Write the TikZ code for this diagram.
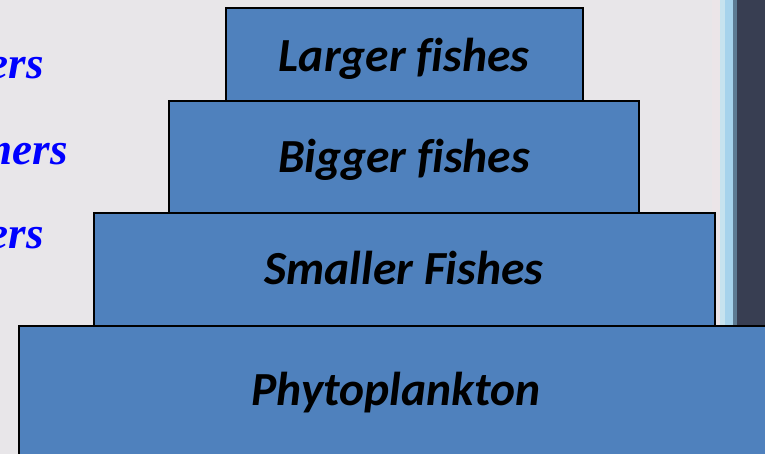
\documentclass[tikz,border=0pt]{standalone}
\usepackage{fontspec}
\setmainfont{Carlito}[Ligatures=NoCommon]
\newfontfamily\tnr{Liberation Serif}
\definecolor{boxblue}{HTML}{4F81BD}
\definecolor{bggray}{HTML}{E8E6E9}
\definecolor{darkbar}{HTML}{383E52}
\definecolor{stripeA}{HTML}{ECE5E8}
\definecolor{stripeB}{HTML}{C6E3EF}
\definecolor{stripeC}{HTML}{A6D3EC}
\definecolor{stripeD}{HTML}{5D7B93}
\begin{document}
\begin{tikzpicture}[x=1pt,y=-1pt,
  tier/.style={draw=black, line width=1.6pt, fill=boxblue, inner sep=0pt, rectangle},
  tierlabel/.style={anchor=base, inner sep=0pt, text=black, font=\bfseries\itshape\fontsize{47.5}{47.5}\selectfont},
  sidelabel/.style={anchor=base east, inner sep=0pt, text=blue, font=\tnr\bfseries\itshape\fontsize{45}{45}\selectfont}]
\useasboundingbox (0,0) rectangle (765,454);
\clip (0,0) rectangle (765,454);
\fill[bggray] (0,0) rectangle (765,454);
% right side bar
\fill[stripeA] (712,0) rectangle (720,454);
\fill[stripeB] (720,0) rectangle (725,454);
\fill[stripeC] (725,0) rectangle (733,454);
\fill[stripeD] (733,0) rectangle (737,454);
\fill[darkbar] (737,0) rectangle (765,454);
% side labels
\node[sidelabel] (s1) at (44,79) {ers};
\node[sidelabel] (s2) at (68,165) {mers};
\node[sidelabel] (s3) at (44,248) {ers};
% tiers
\node[tier, minimum width=771pt, minimum height=154pt] (b4) at (404.5,403) {};
\node[tier, minimum width=621pt, minimum height=113pt] (b3) at (404.5,269.5) {};
\node[tier, minimum width=470pt, minimum height=112pt] (b2) at (404,157) {};
\node[tier, minimum width=357pt, minimum height=93pt] (b1) at (404.5,54.5) {};
% tier labels
\node[tierlabel] (t1) at (404,72) {Larger fishes};
\node[tierlabel] (t2) at (404,173) {Bigger fishes};
\node[tierlabel] (t3) at (404,284) {Smaller Fishes};
\node[tierlabel] (t4) at (396,405) {Phytoplankton};
\end{tikzpicture}
\end{document}
